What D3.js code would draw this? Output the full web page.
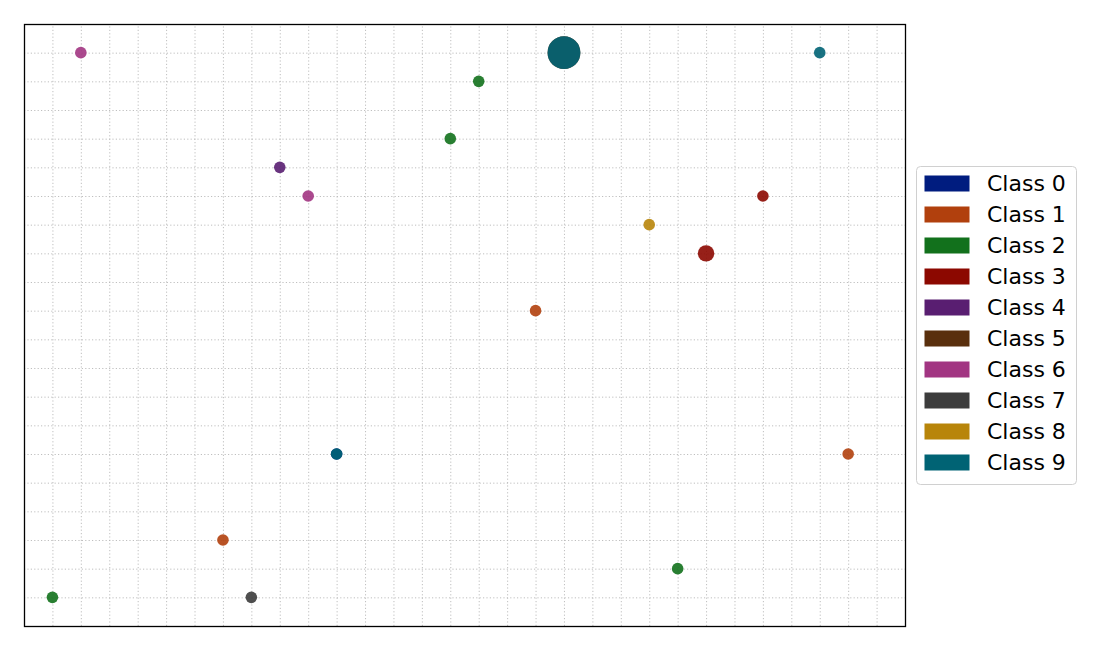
<!DOCTYPE html>
<html>
<head>
<meta charset="utf-8">
<script src="https://cdn.jsdelivr.net/npm/d3@7"></script>
<style>
  body { margin: 0; background: #fff; }
  .grid line { stroke: #b8b8b8; stroke-width: 0.9; stroke-dasharray: 1.2, 2.2; }
  .grid path { stroke: none; }
</style>
</head>
<body>
<div id="chart"></div>
<script>
// data (grid units)
var classNames = ["Class 0", "Class 1", "Class 2", "Class 3", "Class 4",
                  "Class 5", "Class 6", "Class 7", "Class 8", "Class 9"];
var classColors = ["#001c7f", "#b1400d", "#12711c", "#8c0800", "#591e71",
                   "#592f0d", "#a23582", "#3c3c3c", "#b8850a", "#006374"];

var pointX     = [1, 15, 18, 18, 27, 14, 8, 9, 25, 21, 23, 17, 10, 10, 28, 6, 22, 0, 7];
var pointY     = [19, 18, 19, 19, 19, 16, 15, 14, 14, 13, 12, 10, 5, 5, 5, 2, 1, 0, 0];
var pointClass = [6, 2, 5, 9, 9, 2, 4, 6, 3, 8, 3, 1, 0, 9, 1, 1, 2, 2, 7];
var pointCount = [1, 1, 8, 8, 1, 1, 1, 1, 1, 1, 2, 1, 1, 1, 1, 1, 1, 1, 1];

var xTicks = d3.range(0, 30);
var yTicks = d3.range(0, 20);

//-------------------------------------------------------//
//                DEFINE SVG AREA                        //
//-------------------------------------------------------//
var svgWidth = 1100;
var svgHeight = 650;

var margin = { top: 24, left: 24, right: 195, bottom: 24 };
var chartWidth = 905 - margin.left;
var chartHeight = 626 - margin.top;

var svg = d3.select("#chart")
    .append("svg")
    .attr("width", svgWidth)
    .attr("height", svgHeight);

var chartGroup = svg.append("g")
    .attr("transform", `translate(${margin.left}, ${margin.top})`);

var xScale = d3.scaleLinear().domain([-1, 30]).range([0, chartWidth]);
var yScale = d3.scaleLinear().domain([-1, 20]).range([chartHeight, 0]);
var rScale = d3.scaleSqrt().domain([0, 1]).range([0, 5.8]);

// dotted grid
chartGroup.append("g")
    .attr("class", "grid")
    .attr("transform", `translate(0, ${chartHeight})`)
    .call(d3.axisBottom(xScale).tickValues(xTicks).tickSize(-chartHeight).tickFormat(""));

chartGroup.append("g")
    .attr("class", "grid")
    .call(d3.axisLeft(yScale).tickValues(yTicks).tickSize(-chartWidth).tickFormat(""));

// points
var points = pointX.map(function(x, i) {
    return { x: x, y: pointY[i], cls: pointClass[i], count: pointCount[i] };
});

chartGroup.selectAll(".pt")
    .data(points)
    .enter()
    .append("circle")
    .attr("class", "pt")
    .attr("cx", d => xScale(d.x))
    .attr("cy", d => yScale(d.y))
    .attr("r", d => rScale(d.count))
    .attr("fill", d => classColors[d.cls])
    .attr("fill-opacity", 0.9);

// frame
chartGroup.append("rect")
    .attr("x", 0.5)
    .attr("y", 0.5)
    .attr("width", chartWidth)
    .attr("height", chartHeight)
    .attr("fill", "none")
    .attr("stroke", "#000")
    .attr("stroke-width", 1.3);

// legend
var legend = svg.append("g")
    .attr("transform", "translate(916.5, 166.5)");

legend.append("rect")
    .attr("width", 160)
    .attr("height", 318)
    .attr("rx", 4)
    .attr("fill", "#fff")
    .attr("fill-opacity", 0.8)
    .attr("stroke", "#d0d0d0");

var items = legend.selectAll(".item")
    .data(classNames)
    .enter()
    .append("g")
    .attr("transform", (d, i) => `translate(0, ${17 + i * 31})`);

items.append("rect")
    .attr("x", 8)
    .attr("y", -8)
    .attr("width", 45)
    .attr("height", 16)
    .attr("fill", (d, i) => classColors[i]);

items.append("text")
    .attr("x", 70.5)
    .attr("y", 0)
    .attr("dy", "0.36em")
    .attr("font-family", "DejaVu Sans")
    .attr("font-size", 22)
    .attr("fill", "#000")
    .text(d => d);
</script>
</body>
</html>
